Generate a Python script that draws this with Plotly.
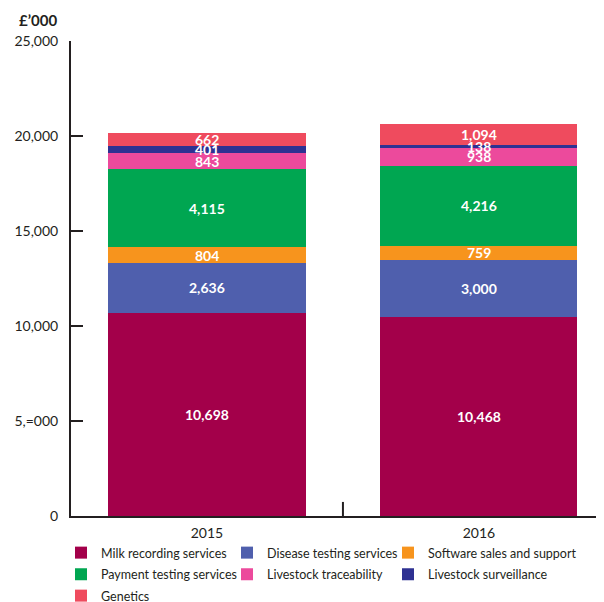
import plotly.graph_objects as go

years = ["2015", "2016"]
series_names = [
    "Milk recording services",
    "Disease testing services",
    "Software sales and support",
    "Payment testing services",
    "Livestock traceability",
    "Livestock surveillance",
    "Genetics",
]
milk = [10698, 10468]
disease = [2636, 3000]
software = [804, 759]
payment = [4115, 4216]
traceability = [843, 938]
surveillance = [401, 138]
genetics = [662, 1094]
series_values = [milk, disease, software, payment, traceability, surveillance, genetics]
colors = ["#A3004A", "#4F5FAD", "#F7941D", "#00A651", "#EC4A9C", "#2E3192", "#EF4B5E"]

y_tickvals = [0, 5000, 10000, 15000, 20000, 25000]
y_ticktext = ["0", "5,=000", "10,000", "15,000", "20,000", "25,000"]

FONT = "Lato, 'Open Sans', sans-serif"
xpos = list(range(len(years)))

W, H = 596, 594
# legend grid: 3 columns, row-major like the reference (one legend box per entry)
col_x = [53, 219, 380]
row_top = [530, 551.5, 573]

fig = go.Figure()
annotations = []
legends = {}
base = [0] * len(years)
for k, (name, vals, col) in enumerate(zip(series_names, series_values, colors)):
    lid = "legend" if k == 0 else f"legend{k + 1}"
    legends[lid] = dict(
        orientation="v", xref="container", yref="container",
        xanchor="left", yanchor="top",
        x=col_x[k % 3] / W, y=(H - row_top[k // 3]) / H,
        font=dict(size=12.5, family=FONT, color="#231F20"),
        itemclick=False, bgcolor="rgba(0,0,0,0)",
    )
    fig.add_trace(go.Bar(
        x=xpos, y=vals, name=name,
        marker=dict(color=col, line=dict(width=0)),
        width=0.725,
        legend=lid,
        hoverinfo="skip",
    ))
    for i, v in enumerate(vals):
        annotations.append(dict(
            x=xpos[i], y=base[i] + v / 2, xref="x", yref="y",
            text=f"<b>{v:,}</b>", showarrow=False,
            xanchor="center", yanchor="middle",
            font=dict(color="white", size=14, family=FONT),
        ))
        base[i] += v

annotations.append(dict(
    text="<b>£’000</b>", xref="paper", yref="paper",
    x=-0.062, y=1.0, xanchor="center", yanchor="middle", yshift=21,
    showarrow=False, font=dict(size=15, family=FONT, color="#231F20"),
))

fig.update_layout(
    barmode="stack",
    width=W, height=H,
    margin=dict(l=63, r=0, t=33, b=86, autoexpand=False),
    paper_bgcolor="white", plot_bgcolor="white",
    font=dict(family=FONT, color="#231F20", size=14),
    showlegend=True,
    xaxis=dict(
        range=[-0.5, 1.46],
        tickvals=xpos, ticktext=years,
        showgrid=False, zeroline=False,
        showline=True, linecolor="#231F20", linewidth=2,
        ticks="", tickfont=dict(size=14),
        ticklabelstandoff=3,
        fixedrange=True,
    ),
    yaxis=dict(
        range=[0, 25000],
        tickvals=y_tickvals, ticktext=y_ticktext,
        showgrid=False, zeroline=False,
        showline=True, linecolor="#231F20", linewidth=2,
        ticks="inside", ticklen=12, tickwidth=2, tickcolor="#231F20",
        ticklabelstandoff=8,
        tickfont=dict(size=14),
        fixedrange=True,
    ),
    annotations=annotations,
    shapes=[dict(
        type="line", xref="x", yref="y", x0=0.5, x1=0.5, y0=0, y1=740,
        line=dict(color="#231F20", width=2),
    )],
)
fig.update_layout(**legends)

fig.write_html("out.html")
